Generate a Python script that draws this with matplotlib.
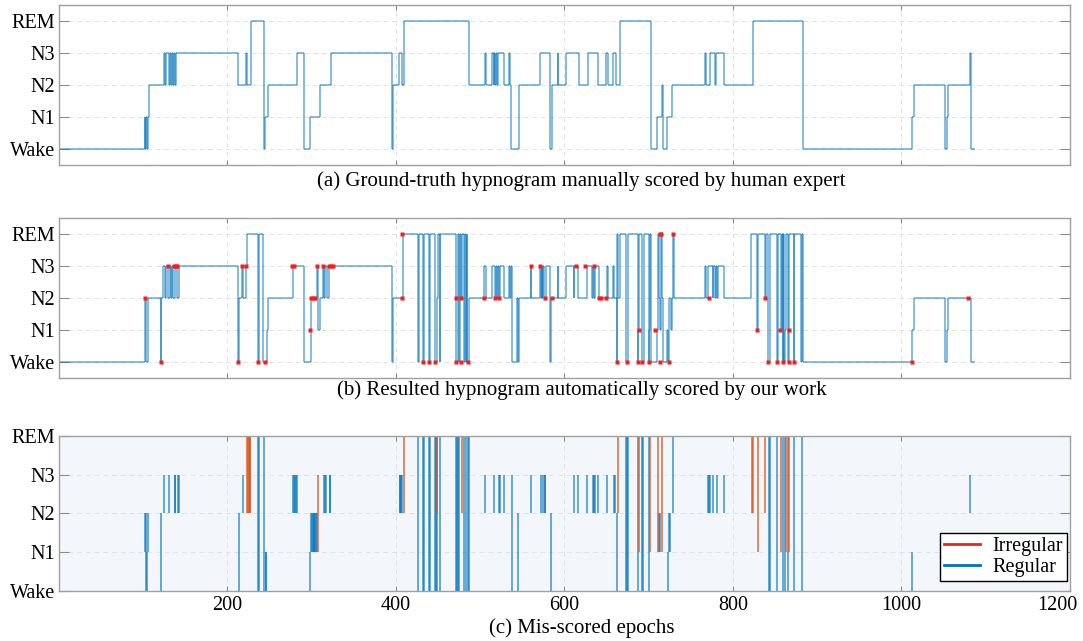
import numpy as np
import matplotlib
matplotlib.use("Agg")
import matplotlib.pyplot as plt
import matplotlib.transforms as mtransforms
from matplotlib.collections import LineCollection
from matplotlib.lines import Line2D

plt.rcParams['font.family'] = ['Liberation Serif', 'DejaVu Serif']

n_epochs = 1087
stage_names = ['Wake', 'N1', 'N2', 'N3', 'REM']

# expert scoring: epoch where each run starts and its stage (0=Wake ... 4=REM)
true_starts = [0, 102, 103, 104, 105, 106, 107, 125, 126, 127, 131, 132, 133, 134, 136, 137, 138, 139,
               213, 222, 223, 228, 244, 245, 248, 283, 291, 298, 310, 323, 395, 397, 404, 408, 410,
               487, 506, 507, 514, 516, 517, 518, 519, 520, 521, 529, 534, 535, 537, 546, 571, 583,
               585, 592, 593, 602, 617, 628, 640, 650, 652, 658, 661, 666, 703, 710, 716, 717, 722,
               728, 767, 768, 773, 779, 780, 790, 824, 883, 1012, 1015, 1052, 1054, 1055, 1081, 1082]
true_stages = [0, 1, 0, 1, 0, 1, 2, 3, 2, 3, 2, 3, 2, 3, 2, 3, 2, 3,
               2, 3, 2, 4, 0, 1, 2, 3, 0, 1, 2, 3, 0, 2, 3, 2, 4,
               2, 3, 2, 3, 2, 3, 2, 3, 2, 3, 2, 3, 2, 0, 2, 3, 0,
               2, 3, 2, 3, 2, 3, 2, 3, 2, 3, 2, 4, 0, 1, 2, 0, 1,
               2, 3, 2, 3, 2, 3, 2, 4, 0, 1, 2, 0, 1, 2, 3, 0]

# automatic scoring: epochs [start, end) where it disagrees with the expert
err_start = [102, 104, 106, 121, 124, 130, 137, 138, 141, 213, 218, 223, 236, 243, 245, 278, 298,
             299, 307, 314, 316, 321, 404, 409, 426, 432, 439, 446, 449, 452, 471, 475, 478, 481,
             483, 485, 505, 516, 522, 528, 537, 544, 560, 572, 574, 576, 584, 611, 616, 627, 633,
             635, 640, 650, 659, 662, 663, 673, 687, 688, 692, 700, 701, 711, 712, 715, 723, 724,
             729, 770, 776, 781, 789, 822, 829, 838, 842, 852, 857, 859, 861, 862, 865, 866, 872,
             881, 1012, 1081]
err_end = [104, 105, 107, 122, 125, 131, 138, 139, 143, 214, 219, 228, 238, 244, 247, 283, 299,
           307, 308, 315, 318, 323, 408, 410, 427, 434, 441, 449, 450, 453, 474, 476, 479, 482,
           484, 487, 506, 517, 524, 529, 538, 545, 561, 573, 575, 578, 585, 612, 617, 628, 634,
           637, 641, 651, 661, 663, 664, 676, 688, 689, 694, 701, 702, 712, 714, 716, 724, 726,
           730, 773, 777, 782, 790, 824, 830, 839, 844, 853, 858, 860, 862, 863, 866, 867, 873,
           882, 1013, 1082]
err_stage = [2, 0, 2, 0, 3, 2, 2, 3, 2, 0, 3, 4, 0, 0, 0, 3, 0,
             2, 3, 3, 3, 3, 2, 4, 0, 0, 0, 0, 2, 0, 0, 0, 2, 0,
             0, 0, 3, 3, 2, 2, 3, 2, 3, 2, 2, 2, 2, 2, 2, 3, 2,
             2, 3, 2, 2, 0, 4, 0, 0, 1, 0, 0, 1, 4, 2, 4, 0, 2,
             4, 3, 2, 2, 2, 4, 1, 2, 0, 0, 1, 0, 0, 1, 0, 1, 0,
             0, 0, 2]
err_irregular = [0, 0, 0, 0, 0, 0, 0, 0, 0, 0, 0, 1, 0, 0, 0, 0, 0,
                 0, 1, 0, 0, 0, 0, 1, 0, 0, 0, 0, 1, 0, 0, 0, 1, 0,
                 0, 0, 0, 0, 0, 0, 0, 0, 0, 0, 0, 0, 0, 0, 0, 0, 0,
                 0, 0, 0, 0, 0, 1, 0, 0, 1, 0, 0, 1, 1, 0, 1, 0, 0,
                 0, 0, 0, 0, 0, 1, 1, 1, 0, 0, 1, 0, 0, 1, 0, 1, 0,
                 0, 0, 0]

# flagged transitions on the automatic hypnogram
dot_epochs = [102, 121, 130, 137, 139, 141, 213, 218, 222, 236, 245, 277, 279, 298, 300, 302, 304,
              306, 314, 321, 323, 325, 407, 408, 432, 439, 447, 471, 471, 478, 478, 486, 505, 518,
              522, 561, 571, 577, 585, 614, 625, 635, 641, 643, 649, 662, 674, 687, 689, 692, 700,
              708, 713, 715, 714, 724, 729, 772, 829, 838, 842, 852, 856, 859, 866, 867, 873, 1012,
              1079]
dot_stages = [2, 0, 3, 3, 3, 3, 0, 3, 3, 0, 0, 3, 3, 1, 2, 2, 2,
              3, 3, 3, 3, 3, 2, 4, 0, 0, 0, 2, 0, 2, 0, 0, 2, 2,
              2, 3, 3, 2, 2, 3, 3, 3, 2, 2, 2, 0, 0, 0, 1, 0, 0,
              1, 4, 4, 0, 0, 4, 2, 1, 2, 0, 0, 1, 0, 1, 0, 0, 0,
              2]

BLUE = '#0072BD'
ORANGE = '#D95319'


def expand(starts, stages, n):
    out = np.zeros(n, dtype=int)
    bounds = list(starts[1:]) + [n]
    for s, e, v in zip(starts, bounds, stages):
        out[s:e] = v
    return out


truth = expand(true_starts, true_stages, n_epochs)
pred = truth.copy()
irr = np.zeros(n_epochs, dtype=bool)
for s, e, v, f in zip(err_start, err_end, err_stage, err_irregular):
    pred[s:e] = v
    irr[s:e] = bool(f)


def hypno_segments(y):
    # horizontal runs plus the vertical jumps, kept as separate segments so
    # overlapping jumps build up darker
    segs = []
    change = np.flatnonzero(np.diff(y)) + 1
    starts = np.r_[0, change]
    ends = np.r_[change, len(y)]
    for s, e in zip(starts, ends):
        segs.append([(s, y[s]), (e, y[s])])
    for c in change:
        segs.append([(c, y[c - 1]), (c, y[c])])
    return segs


def style_axes(ax, ylim, show_x):
    ax.set_xlim(1, 1200)
    ax.set_ylim(*ylim)
    ax.set_xticks([200, 400, 600, 800, 1000, 1200])
    ax.set_yticks(range(5))
    ax.set_yticklabels(stage_names)
    ax.grid(True, ls=(0, (5, 4)), color='#e2e2e2', lw=0.7)
    ax.set_axisbelow(True)
    for sp in ax.spines.values():
        sp.set_color('#a0a0a0')
        sp.set_linewidth(1.0)
    ax.tick_params(axis='x', direction='in', top=True, length=3.6, color='#8c8c8c',
                   labelsize=14.5, pad=4, labelbottom=show_x)
    ax.tick_params(axis='y', direction='in', right=True, length=7, color='#8c8c8c',
                   labelsize=14.5, pad=3)


fig = plt.figure(figsize=(10.83, 6.41), dpi=100)
L, W = 0.0549, 0.9331
ax_a = fig.add_axes([L, 0.7426, W, 0.2496])
ax_b = fig.add_axes([L, 0.4108, W, 0.2496])
ax_c = fig.add_axes([L, 0.0782, W, 0.2419])

# (a) expert hypnogram
ax_a.add_collection(LineCollection(hypno_segments(truth), colors=BLUE, linewidths=1.1, alpha=0.6))
style_axes(ax_a, (-0.5, 4.5), False)

# (b) automatic hypnogram with flagged points
ax_b.add_collection(LineCollection(hypno_segments(pred), colors=BLUE, linewidths=1.1, alpha=0.6))
ax_b.plot(dot_epochs, dot_stages, ls='none', marker='s', ms=2.6, color='#ff1a1a', mec='none')
style_axes(ax_b, (-0.5, 4.5), False)

# (c) mis-scored epochs, drawn from the expert stage to the predicted stage
mis = np.flatnonzero(pred != truth)
lo = np.minimum(pred[mis], truth[mis])
hi = np.maximum(pred[mis], truth[mis])
reg = ~irr[mis]
ax_c.set_facecolor('#f3f7fc')
ax_c.vlines(mis[reg] + 0.5, lo[reg], hi[reg], colors=BLUE, lw=1.1, alpha=0.75)
ax_c.vlines(mis[~reg] + 0.5, lo[~reg], hi[~reg], colors=ORANGE, lw=1.1, alpha=0.85)
style_axes(ax_c, (0, 4), True)

# keep the last x label inside the figure
last = ax_c.get_xticklabels()[-1]
last.set_transform(last.get_transform()
                   + mtransforms.ScaledTranslation(-0.13, 0, fig.dpi_scale_trans))

handles = [Line2D([], [], color='#e3261b', lw=2), Line2D([], [], color=BLUE, lw=2)]
leg = ax_c.legend(handles, ['Irregular', 'Regular'], loc='lower right',
                  bbox_to_anchor=(0.997, 0.065), fontsize=14.5,
                  fancybox=False, framealpha=1, edgecolor='black', handlelength=1.8,
                  borderaxespad=0, borderpad=0.2, labelspacing=0.1, handletextpad=0.6)
leg.get_frame().set_linewidth(1.0)

cx = 0.537
fig.text(cx, 0.7176, '(a) Ground-truth hypnogram manually scored by human expert',
         ha='center', va='center', fontsize=15)
fig.text(cx, 0.3916, '(b) Resulted hypnogram automatically scored by our work',
         ha='center', va='center', fontsize=15)
fig.text(cx, 0.0203, '(c) Mis-scored epochs', ha='center', va='center', fontsize=15)

fig.savefig('out.png', dpi=100)
